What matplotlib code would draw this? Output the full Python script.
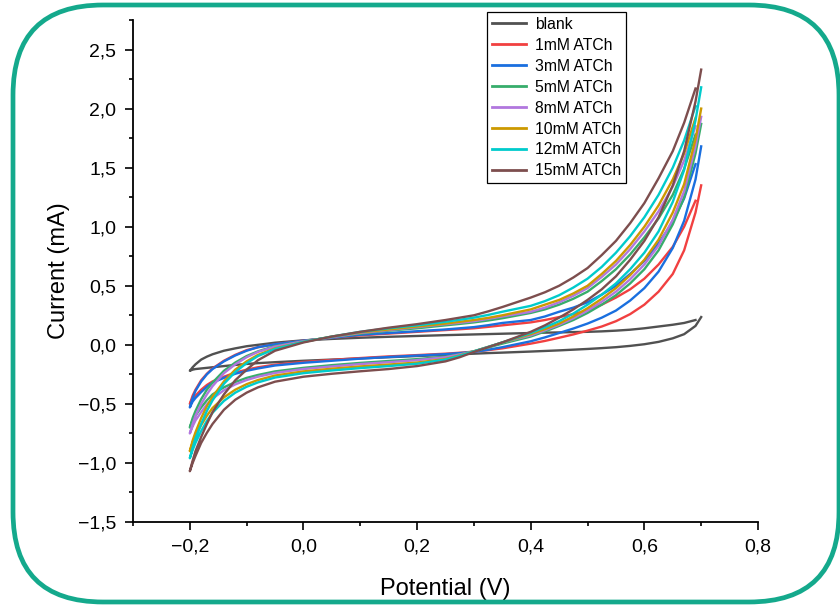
import numpy as np
import matplotlib
matplotlib.use("Agg")
import matplotlib.pyplot as plt
from matplotlib.patches import FancyBboxPatch
from matplotlib.transforms import IdentityTransform
from matplotlib.ticker import MultipleLocator, FuncFormatter

plt.rcParams['font.family'] = ['Liberation Sans', 'DejaVu Sans']

# ---------------- data ----------------
labels = ["blank", "1mM ATCh", "3mM ATCh", "5mM ATCh", "8mM ATCh",
          "10mM ATCh", "12mM ATCh", "15mM ATCh"]
colors = ["#515151", "#F14040", "#1A6FDF", "#37AD6B", "#B177DE",
          "#CC9900", "#00CBCC", "#7D4E4E"]

# potential grid of the upper branch (ends at 0.69 V) and lower branch (ends at 0.70 V)
v_upper = [-0.2, -0.195, -0.19, -0.18, -0.17, -0.16, -0.14, -0.12, -0.10, -0.08,
           -0.05, 0.0, 0.05, 0.1, 0.15, 0.2, 0.25, 0.275, 0.3, 0.325, 0.35, 0.4,
           0.425, 0.45, 0.475, 0.5, 0.525, 0.55, 0.575, 0.6, 0.625, 0.65, 0.67, 0.69]
v_lower = [-0.2, -0.195, -0.19, -0.18, -0.17, -0.16, -0.14, -0.12, -0.10, -0.08,
           -0.05, 0.0, 0.05, 0.1, 0.15, 0.2, 0.25, 0.275, 0.3, 0.325, 0.35, 0.4,
           0.425, 0.45, 0.475, 0.5, 0.525, 0.55, 0.575, 0.6, 0.625, 0.65, 0.67, 0.69,
           0.70]

blank_up = [-0.22, -0.19, -0.165, -0.125, -0.10, -0.08, -0.05, -0.03, -0.012, 0.0,
            0.018, 0.038, 0.05, 0.06, 0.068, 0.075, 0.082, 0.085, 0.088, 0.091, 0.094,
            0.10, 0.103, 0.105, 0.108, 0.11, 0.114, 0.12, 0.128, 0.14, 0.155, 0.17,
            0.185, 0.21]
blank_lo = [-0.22, -0.21, -0.205, -0.20, -0.195, -0.19, -0.18, -0.17, -0.162, -0.155,
            -0.147, -0.135, -0.125, -0.115, -0.105, -0.095, -0.085, -0.08, -0.075,
            -0.07, -0.066, -0.057, -0.052, -0.047, -0.041, -0.035, -0.028, -0.02,
            -0.009, 0.005, 0.025, 0.055, 0.09, 0.16, 0.235]

atch1_up = [-0.50, -0.43, -0.38, -0.30, -0.245, -0.20, -0.135, -0.085, -0.045, -0.02,
            0.005, 0.035, 0.06, 0.08, 0.095, 0.11, 0.125, 0.132, 0.14, 0.152, 0.165,
            0.19, 0.21, 0.235, 0.26, 0.29, 0.34, 0.40, 0.47, 0.56, 0.68, 0.83, 1.00,
            1.22]
atch1_lo = [-0.50, -0.46, -0.43, -0.38, -0.34, -0.31, -0.27, -0.235, -0.21, -0.19,
            -0.168, -0.145, -0.128, -0.112, -0.098, -0.087, -0.075, -0.067, -0.058,
            -0.045, -0.03, 0.01, 0.033, 0.06, 0.088, 0.12, 0.155, 0.20, 0.26, 0.34,
            0.45, 0.60, 0.80, 1.12, 1.35]

atch3_up = [-0.53, -0.45, -0.39, -0.31, -0.25, -0.205, -0.14, -0.09, -0.05, -0.02,
            0.005, 0.035, 0.06, 0.085, 0.10, 0.115, 0.13, 0.14, 0.15, 0.166, 0.185,
            0.21, 0.24, 0.28, 0.315, 0.36, 0.425, 0.50, 0.60, 0.71, 0.86, 1.04, 1.24,
            1.53]
atch3_lo = [-0.53, -0.48, -0.45, -0.40, -0.355, -0.32, -0.28, -0.245, -0.22, -0.20,
            -0.175, -0.152, -0.135, -0.117, -0.103, -0.091, -0.079, -0.07, -0.06,
            -0.042, -0.02, 0.03, 0.063, 0.10, 0.138, 0.18, 0.23, 0.29, 0.375, 0.48,
            0.62, 0.82, 1.05, 1.40, 1.68]

atch5_up = [-0.70, -0.62, -0.56, -0.46, -0.38, -0.32, -0.22, -0.15, -0.095, -0.055,
            -0.01, 0.03, 0.065, 0.095, 0.12, 0.14, 0.165, 0.177, 0.19, 0.206, 0.225,
            0.27, 0.30, 0.34, 0.39, 0.45, 0.54, 0.64, 0.765, 0.91, 1.07, 1.27, 1.49,
            1.78]
atch5_lo = [-0.70, -0.64, -0.60, -0.53, -0.47, -0.42, -0.36, -0.315, -0.28, -0.255,
            -0.225, -0.195, -0.172, -0.153, -0.137, -0.121, -0.10, -0.08, -0.055,
            -0.023, 0.01, 0.07, 0.113, 0.16, 0.21, 0.27, 0.34, 0.42, 0.52, 0.64,
            0.80, 1.02, 1.25, 1.62, 1.87]

atch8_up = [-0.75, -0.67, -0.60, -0.50, -0.42, -0.35, -0.24, -0.165, -0.105, -0.06,
            -0.015, 0.03, 0.065, 0.10, 0.125, 0.15, 0.175, 0.187, 0.20, 0.22, 0.24,
            0.28, 0.315, 0.36, 0.415, 0.48, 0.575, 0.68, 0.81, 0.96, 1.13, 1.34, 1.56,
            1.85]
atch8_lo = [-0.75, -0.69, -0.64, -0.57, -0.505, -0.455, -0.385, -0.335, -0.298, -0.27,
            -0.238, -0.205, -0.183, -0.163, -0.147, -0.13, -0.105, -0.082, -0.055,
            -0.018, 0.02, 0.08, 0.123, 0.17, 0.225, 0.29, 0.365, 0.45, 0.555, 0.68,
            0.84, 1.06, 1.30, 1.68, 1.93]

atch10_up = [-0.90, -0.81, -0.74, -0.62, -0.52, -0.44, -0.31, -0.21, -0.14, -0.085,
             -0.03, 0.025, 0.07, 0.105, 0.13, 0.155, 0.18, 0.195, 0.21, 0.228, 0.25,
             0.30, 0.34, 0.38, 0.435, 0.50, 0.60, 0.71, 0.845, 1.00, 1.18, 1.40, 1.62,
             1.92]
atch10_lo = [-0.90, -0.83, -0.77, -0.68, -0.60, -0.535, -0.445, -0.38, -0.333, -0.298,
             -0.26, -0.225, -0.202, -0.183, -0.167, -0.15, -0.12, -0.09, -0.055,
             -0.018, 0.02, 0.09, 0.133, 0.18, 0.24, 0.31, 0.39, 0.48, 0.59, 0.72,
             0.89, 1.12, 1.36, 1.74, 2.00]

atch12_up = [-0.96, -0.87, -0.79, -0.67, -0.56, -0.47, -0.33, -0.23, -0.155, -0.095,
             -0.035, 0.025, 0.07, 0.11, 0.14, 0.165, 0.195, 0.212, 0.23, 0.253, 0.28,
             0.33, 0.37, 0.42, 0.485, 0.56, 0.66, 0.78, 0.92, 1.08, 1.27, 1.50, 1.73,
             2.02]
atch12_lo = [-0.96, -0.89, -0.83, -0.73, -0.645, -0.575, -0.475, -0.405, -0.355, -0.318,
             -0.277, -0.24, -0.217, -0.197, -0.18, -0.16, -0.125, -0.093, -0.055,
             -0.018, 0.02, 0.10, 0.148, 0.20, 0.265, 0.34, 0.425, 0.52, 0.64, 0.78,
             0.96, 1.21, 1.48, 1.90, 2.18]

atch15_up = [-1.07, -0.98, -0.90, -0.78, -0.67, -0.57, -0.42, -0.30, -0.21, -0.13,
             -0.05, 0.02, 0.07, 0.11, 0.145, 0.175, 0.21, 0.23, 0.25, 0.283, 0.32,
             0.40, 0.445, 0.50, 0.57, 0.65, 0.76, 0.88, 1.03, 1.20, 1.41, 1.64, 1.88,
             2.17]
atch15_lo = [-1.07, -1.00, -0.94, -0.83, -0.745, -0.67, -0.55, -0.465, -0.405, -0.36,
             -0.312, -0.27, -0.245, -0.224, -0.205, -0.18, -0.14, -0.105, -0.06,
             -0.02, 0.02, 0.11, 0.165, 0.23, 0.30, 0.38, 0.47, 0.58, 0.72, 0.88,
             1.08, 1.35, 1.64, 2.06, 2.33]

uppers = [blank_up, atch1_up, atch3_up, atch5_up, atch8_up, atch10_up, atch12_up, atch15_up]
lowers = [blank_lo, atch1_lo, atch3_lo, atch5_lo, atch8_lo, atch10_lo, atch12_lo, atch15_lo]

# ---------------- figure ----------------
W, H = 840, 606
fig = plt.figure(figsize=(W / 100, H / 100), dpi=100)
ax = fig.add_axes([133 / W, 1 - 522 / H, (758 - 133) / W, (522 - 20) / H])

vu = np.array(v_upper)
vl = np.array(v_lower)
for lab, col, up, lo in zip(labels, colors, uppers, lowers):
    x = np.concatenate([vu[::-1], vl[1:]])
    y = np.concatenate([np.array(up)[::-1], np.array(lo)[1:]])
    ax.plot(x, y, color=col, lw=1.7, label=lab, solid_joinstyle='round')

ax.set_xlim(-0.3, 0.8)
ax.set_ylim(-1.5, 2.75)
ax.xaxis.set_major_locator(MultipleLocator(0.2))
ax.xaxis.set_minor_locator(MultipleLocator(0.1))
ax.yaxis.set_major_locator(MultipleLocator(0.5))
ax.yaxis.set_minor_locator(MultipleLocator(0.25))


def fmt(v, pos):
    if abs(v) < 1e-9:
        v = 0.0
    return f"{v:.1f}".replace('.', ',').replace('-', '\u2212')


ax.xaxis.set_major_formatter(FuncFormatter(fmt))
ax.yaxis.set_major_formatter(FuncFormatter(fmt))

for s in ['top', 'right']:
    ax.spines[s].set_visible(False)
for s in ['left', 'bottom']:
    ax.spines[s].set_linewidth(1.3)
ax.tick_params(which='major', direction='out', length=5.5, width=1.2,
               labelsize=14, pad=6.5)
ax.tick_params(which='minor', direction='out', length=3.2, width=1.2)

ax.set_xlabel("Potential (V)", fontsize=17, labelpad=16)
ax.set_ylabel("Current (mA)", fontsize=17, labelpad=6)

leg = ax.legend(loc='upper left', bbox_to_anchor=(487 / W, 1 - 12 / H),
                bbox_transform=fig.transFigure, fontsize=11.3, frameon=True,
                fancybox=False, framealpha=1, edgecolor='black',
                handlelength=2.2, handletextpad=0.55, labelspacing=0.38,
                borderpad=0.3, borderaxespad=0)
leg.get_frame().set_linewidth(0.9)
for h in leg.get_lines():
    h.set_linewidth(2.0)

# rounded teal border
border = FancyBboxPatch((13, H - 602), 826, 597,
                        boxstyle="round,pad=0,rounding_size=90",
                        transform=IdentityTransform(), fill=False,
                        edgecolor='#14A98C', linewidth=3.4, clip_on=False)
fig.add_artist(border)

fig.savefig("out.png", dpi=100)
